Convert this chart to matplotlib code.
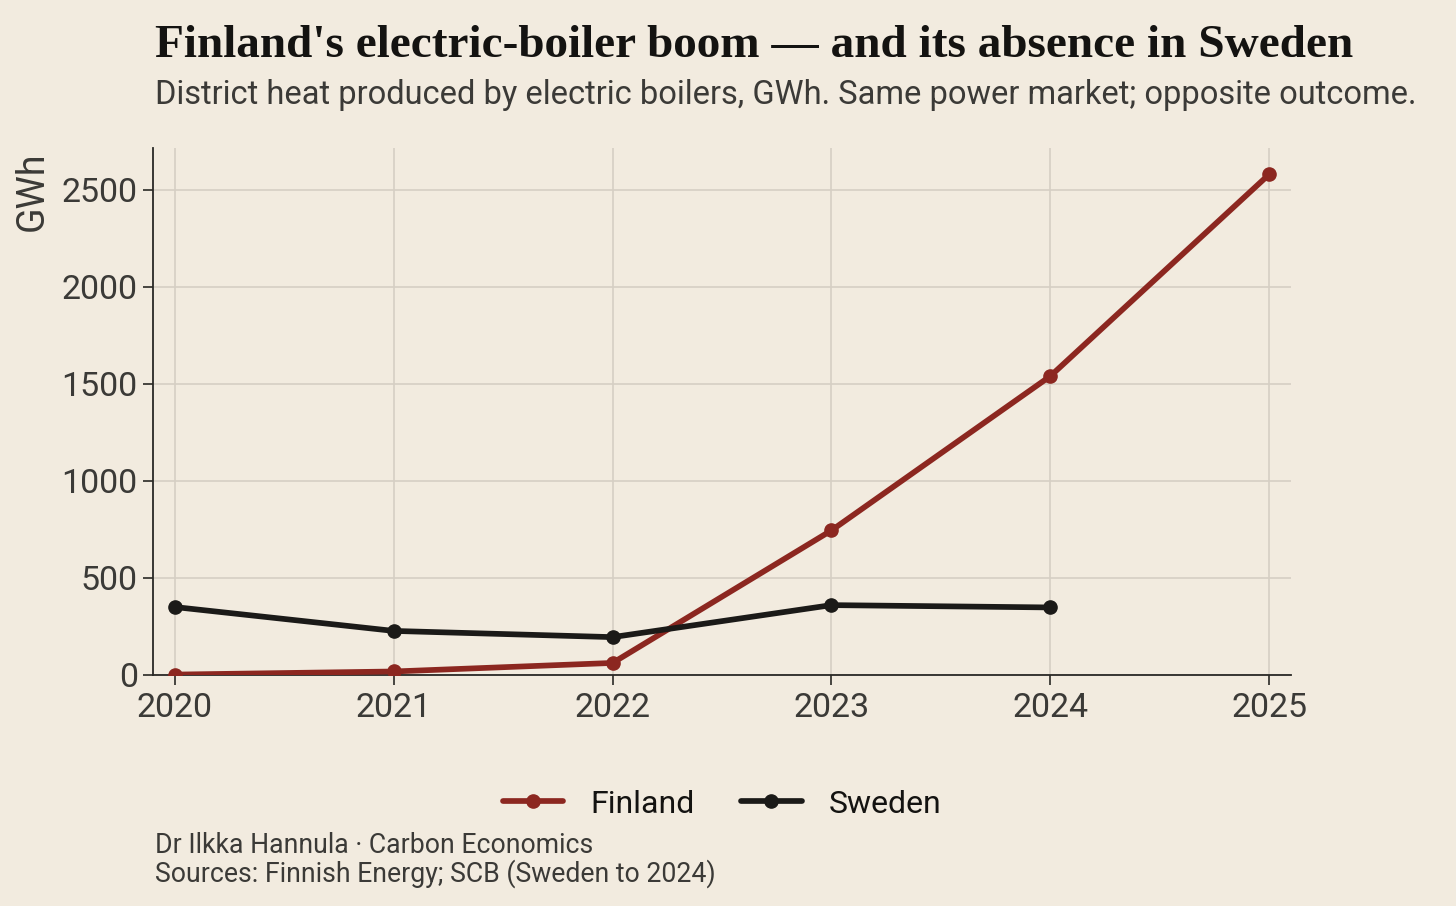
import matplotlib
matplotlib.use("Agg")
import matplotlib.pyplot as plt

years_fi = [2020, 2021, 2022, 2023, 2024, 2025]
finland = [2, 18, 62, 745, 1540, 2580]
years_se = [2020, 2021, 2022, 2023, 2024]
sweden = [350, 227, 195, 360, 348]

bg = "#f2ebdf"
red = "#8c2720"
black = "#1b1a18"
grey_text = "#3b3a37"

plt.rcParams["font.family"] = ["Roboto", "DejaVu Sans"]

fig = plt.figure(figsize=(14.56, 9.06), dpi=100, facecolor=bg)
ax = fig.add_axes([0.1051, 0.255, 0.7816, 0.5817], facecolor=bg)

ax.plot(years_fi, finland, color=red, lw=4.1, marker="o", ms=9.5, label="Finland",
        solid_capstyle="round", zorder=3)
ax.plot(years_se, sweden, color=black, lw=4.1, marker="o", ms=9.5, label="Sweden",
        solid_capstyle="round", zorder=3)

ax.set_xlim(2019.9, 2025.1)
ax.set_ylim(0, 2716)
ax.set_xticks(years_fi)
ax.set_yticks([0, 500, 1000, 1500, 2000, 2500])
ax.grid(True, color="#d6cfc4", lw=1.2)
ax.set_axisbelow(True)
for s in ["top", "right"]:
    ax.spines[s].set_visible(False)
for s in ["left", "bottom"]:
    ax.spines[s].set_color("#2a2926")
    ax.spines[s].set_linewidth(1.3)
ax.tick_params(axis="both", labelsize=24.5, colors="#2a2926", labelcolor=grey_text,
               length=7, width=1.2)
ax.tick_params(axis="x", pad=5)
ax.tick_params(axis="y", pad=4)

fig.text(0.022, 0.789, "GWh", rotation=90, fontsize=27, color=grey_text,
         ha="center", va="center")

fig.text(0.1065, 0.937, "Finland's electric-boiler boom \u2014 and its absence in Sweden",
         fontsize=34, fontweight="bold", family=["Liberation Serif", "DejaVu Serif"],
         color="#141311", va="baseline")
fig.text(0.1065, 0.885, "District heat produced by electric boilers, GWh. Same power market; opposite outcome.",
         fontsize=23.5, color=grey_text, va="baseline")

leg = ax.legend(loc="center", bbox_to_anchor=(0.5, -0.245), ncol=2, frameon=False,
                fontsize=23, handlelength=1.9, handletextpad=0.85, columnspacing=1.45,
                labelcolor="#141311")

fig.text(0.1065, 0.0585, "Dr Ilkka Hannula \u00b7 Carbon Economics", fontsize=19.2,
         color=grey_text, va="baseline")
fig.text(0.1065, 0.0265, "Sources: Finnish Energy; SCB (Sweden to 2024)", fontsize=19.2,
         color=grey_text, va="baseline")

fig.savefig("out.png", dpi=100, facecolor=bg)
